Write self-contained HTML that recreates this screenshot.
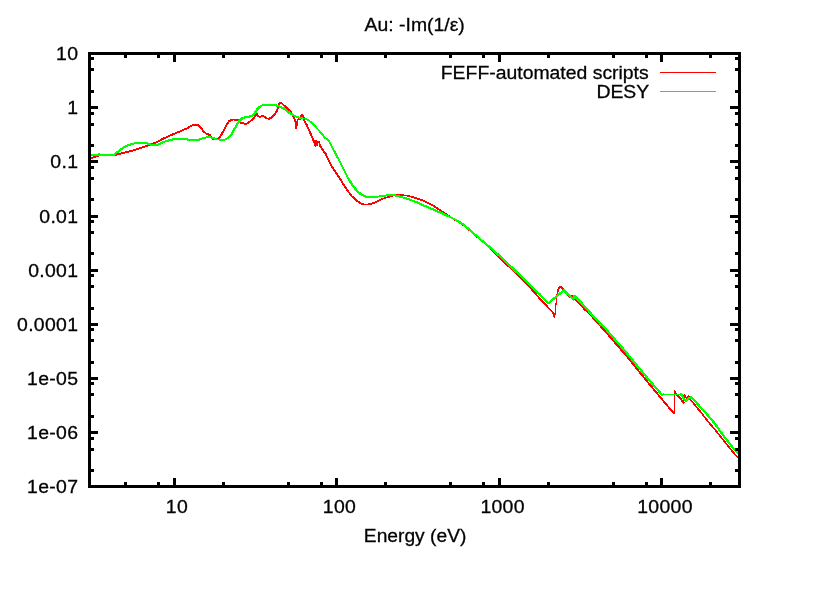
<!DOCTYPE html>
<html><head><meta charset="utf-8"><title>Au: -Im(1/ε)</title>
<style>
html,body{margin:0;padding:0;background:#fff;}
body{width:820px;height:600px;overflow:hidden;}
svg{display:block;}
text{font-family:"Liberation Sans",sans-serif;font-size:18.5px;fill:#000;stroke:#000;stroke-width:0.3px;}
</style></head><body>
<svg width="820" height="600" viewBox="0 0 820 600">
<rect x="0" y="0" width="820" height="600" fill="#fff"/>
<g fill="none" stroke-linejoin="round" stroke-linecap="butt">
<g shape-rendering="crispEdges" stroke-linecap="round">
<polyline stroke="#ff0000" stroke-width="1.9" points="90.5,158.2 91.2,158.0 94.5,157.1 98.9,155.6"/>
<polyline stroke="#ff0000" stroke-width="1.7" points="98.9,155.6 106.0,155.4 114.3,155.2"/>
<polyline stroke="#ff0000" stroke-width="1.8" points="114.3,155.2 120.1,153.8"/>
<polyline stroke="#ff0000" stroke-width="1.9" points="120.1,153.8 126.0,152.3 131.8,150.8 137.7,149.0 143.5,147.2 150.9,144.3 155.2,142.9"/>
<polyline stroke="#ff0000" stroke-width="2.0" points="155.2,142.9 164.0,138.3"/>
<polyline stroke="#ff0000" stroke-width="1.9" points="164.0,138.3 172.8,134.4 181.6,130.7 187.4,128.2"/>
<polyline stroke="#ff0000" stroke-width="2.0" points="187.4,128.2 191.1,125.9"/>
<polyline stroke="#ff0000" stroke-width="1.9" points="191.1,125.9 194.0,125.0"/>
<polyline stroke="#ff0000" stroke-width="1.7" points="194.0,125.0 197.7,124.9"/>
<polyline stroke="#ff0000" stroke-width="2.0" points="197.7,124.9 200.4,127.2 203.2,131.0 206.1,133.5"/>
<polyline stroke="#ff0000" stroke-width="1.9" points="206.1,133.5 209.8,135.1"/>
<polyline stroke="#ff0000" stroke-width="2.0" points="209.8,135.1 212.0,137.8 213.5,139.2"/>
<polyline stroke="#ff0000" stroke-width="1.8" points="213.5,139.2 218.5,138.6"/>
<polyline stroke="#ff0000" stroke-width="2.0" points="218.5,138.6 219.8,137.5 222.0,133.5 224.5,129.0"/>
<polyline stroke="#ff0000" stroke-width="1.9" points="224.5,129.0 227.0,124.0"/>
<polyline stroke="#ff0000" stroke-width="2.0" points="227.0,124.0 229.0,121.2"/>
<polyline stroke="#ff0000" stroke-width="1.9" points="229.0,121.2 232.5,119.6"/>
<polyline stroke="#ff0000" stroke-width="1.7" points="232.5,119.6 238.5,119.8"/>
<polyline stroke="#ff0000" stroke-width="2.0" points="238.5,119.8 240.5,122.5"/>
<polyline stroke="#ff0000" stroke-width="1.9" points="240.5,122.5 243.4,123.4"/>
<polyline stroke="#ff0000" stroke-width="1.8" points="243.4,123.4 246.3,124.0"/>
<polyline stroke="#ff0000" stroke-width="2.0" points="246.3,124.0 250.0,121.5 253.7,118.1 255.9,114.9 257.3,114.1"/>
<polyline stroke="#ff0000" stroke-width="1.9" points="257.3,114.1 258.0,116.3"/>
<polyline stroke="#ff0000" stroke-width="1.8" points="258.0,116.3 260.2,116.8"/>
<polyline stroke="#ff0000" stroke-width="1.9" points="260.2,116.8 263.2,116.0"/>
<polyline stroke="#ff0000" stroke-width="2.0" points="263.2,116.0 266.1,118.1"/>
<polyline stroke="#ff0000" stroke-width="1.8" points="266.1,118.1 269.0,118.8"/>
<polyline stroke="#ff0000" stroke-width="2.0" points="269.0,118.8 272.0,117.1 274.9,114.1 277.1,110.5"/>
<polyline stroke="#ff0000" stroke-width="1.9" points="277.1,110.5 278.8,104.5"/>
<polyline stroke="#ff0000" stroke-width="2.0" points="278.8,104.5 279.9,102.5"/>
<polyline stroke="#ff0000" stroke-width="1.9" points="279.9,102.5 281.3,102.9"/>
<polyline stroke="#ff0000" stroke-width="2.0" points="281.3,102.9 284.0,105.5 287.0,108.0 290.0,111.0 292.5,114.5"/>
<polyline stroke="#ff0000" stroke-width="1.9" points="292.5,114.5 294.5,118.5 295.6,122.0"/>
<polyline stroke="#ff0000" stroke-width="1.2" points="295.6,122.0 296.3,128.6"/>
<polyline stroke="#ff0000" stroke-width="1.8" points="296.3,128.6 296.9,123.0 297.6,119.8"/>
<polyline stroke="#ff0000" stroke-width="1.9" points="297.6,119.8 300.0,119.0 301.0,115.5"/>
<polyline stroke="#ff0000" stroke-width="2.0" points="301.0,115.5 302.2,114.5 303.5,116.5"/>
<polyline stroke="#ff0000" stroke-width="1.8" points="303.5,116.5 304.5,121.0"/>
<polyline stroke="#ff0000" stroke-width="2.0" points="304.5,121.0 306.5,124.5"/>
<polyline stroke="#ff0000" stroke-width="1.9" points="306.5,124.5 308.5,129.0 311.0,134.5 313.0,139.5 314.5,142.5 315.5,146.0"/>
<polyline stroke="#ff0000" stroke-width="1.8" points="315.5,146.0 316.2,141.0 317.0,145.0"/>
<polyline stroke="#ff0000" stroke-width="1.9" points="317.0,145.0 318.0,142.0 319.0,141.5"/>
<polyline stroke="#ff0000" stroke-width="1.8" points="319.0,141.5 320.0,146.0"/>
<polyline stroke="#ff0000" stroke-width="2.0" points="320.0,146.0 322.5,149.5 325.5,153.6"/>
<polyline stroke="#ff0000" stroke-width="1.9" points="325.5,153.6 328.0,159.0"/>
<polyline stroke="#ff0000" stroke-width="1.8" points="328.0,159.0 332.0,167.0"/>
<polyline stroke="#ff0000" stroke-width="1.9" points="332.0,167.0 337.0,174.0 342.0,182.0 347.0,190.0 352.0,196.4 357.0,201.0 362.0,204.0"/>
<polyline stroke="#ff0000" stroke-width="1.7" points="362.0,204.0 366.0,204.6 371.0,204.0"/>
<polyline stroke="#ff0000" stroke-width="1.8" points="371.0,204.0 376.0,202.0 382.0,199.0 388.0,197.0 394.0,195.4"/>
<polyline stroke="#ff0000" stroke-width="1.7" points="394.0,195.4 400.0,194.8 408.0,195.8"/>
<polyline stroke="#ff0000" stroke-width="1.8" points="408.0,195.8 416.0,198.0 424.0,201.0 432.0,205.0"/>
<polyline stroke="#ff0000" stroke-width="1.9" points="432.0,205.0 440.0,210.0 448.0,215.6 456.0,220.3 464.0,225.4 472.0,232.3 480.0,239.3 488.0,246.0 492.0,250.2 496.0,254.3 500.0,258.1 510.0,267.6 520.0,277.1 530.0,287.4 540.0,298.8 548.3,307.7 553.3,313.0"/>
<polyline stroke="#ff0000" stroke-width="1.8" points="553.3,313.0 554.6,317.5"/>
<polyline stroke="#ff0000" stroke-width="1.2" points="554.6,317.5 555.4,310.0 556.2,302.5 557.1,295.0"/>
<polyline stroke="#ff0000" stroke-width="1.7" points="557.1,295.0 558.3,289.2"/>
<polyline stroke="#ff0000" stroke-width="1.9" points="558.3,289.2 559.6,286.7"/>
<polyline stroke="#ff0000" stroke-width="1.6" points="559.6,286.7 561.2,286.7"/>
<polyline stroke="#ff0000" stroke-width="1.9" points="561.2,286.7 563.3,289.2 566.7,293.8 569.2,296.7"/>
<polyline stroke="#ff0000" stroke-width="1.8" points="569.2,296.7 571.2,295.7"/>
<polyline stroke="#ff0000" stroke-width="1.6" points="571.2,295.7 572.9,295.8"/>
<polyline stroke="#ff0000" stroke-width="1.9" points="572.9,295.8 575.0,299.6 579.2,303.7 585.0,309.7 590.0,314.4 597.5,322.5 602.0,327.8 610.0,336.9 618.0,346.2 626.0,355.4 630.4,360.7 640.8,373.7 651.2,386.3 660.0,397.0 665.0,402.8 670.0,408.8 674.2,413.3"/>
<polyline stroke="#ff0000" stroke-width="1.2" points="674.2,413.3 674.6,390.6"/>
<polyline stroke="#ff0000" stroke-width="1.7" points="674.6,390.6 674.9,392.6"/>
<polyline stroke="#ff0000" stroke-width="1.9" points="674.9,392.6 676.7,394.3 680.0,398.1 683.8,402.9"/>
<polyline stroke="#ff0000" stroke-width="1.2" points="683.8,402.9 684.3,395.4"/>
<polyline stroke="#ff0000" stroke-width="1.9" points="684.3,395.4 686.0,397.5"/>
<polyline stroke="#ff0000" stroke-width="1.8" points="686.0,397.5 687.1,397.9"/>
<polyline stroke="#ff0000" stroke-width="1.9" points="687.1,397.9 688.3,396.2 690.0,399.2"/>
<polyline stroke="#ff0000" stroke-width="1.7" points="690.0,399.2 694.2,404.2 700.0,411.2 705.0,417.5 710.0,423.8 714.6,429.2 724.2,441.0 732.5,451.5 739.0,458.8"/>
<polyline stroke="#00ff00" stroke-width="1.9" points="90.5,155.0 97.5,155.0"/>
<polyline stroke="#00ff00" stroke-width="2.3" points="97.5,155.0 98.9,153.9 100.4,155.0"/>
<polyline stroke="#00ff00" stroke-width="1.9" points="100.4,155.0 113.5,155.0"/>
<polyline stroke="#00ff00" stroke-width="2.3" points="113.5,155.0 116.5,152.7 120.1,150.1 124.5,146.8"/>
<polyline stroke="#00ff00" stroke-width="2.2" points="124.5,146.8 128.9,145.0"/>
<polyline stroke="#00ff00" stroke-width="2.1" points="128.9,145.0 132.6,143.9 135.5,143.0"/>
<polyline stroke="#00ff00" stroke-width="1.9" points="135.5,143.0 146.5,143.0"/>
<polyline stroke="#00ff00" stroke-width="2.2" points="146.5,143.0 150.9,144.6"/>
<polyline stroke="#00ff00" stroke-width="1.9" points="150.9,144.6 157.5,144.8"/>
<polyline stroke="#00ff00" stroke-width="2.2" points="157.5,144.8 162.6,142.6 165.0,141.5"/>
<polyline stroke="#00ff00" stroke-width="2.1" points="165.0,141.5 170.0,140.0"/>
<polyline stroke="#00ff00" stroke-width="2.0" points="170.0,140.0 175.0,139.0"/>
<polyline stroke="#00ff00" stroke-width="1.9" points="175.0,139.0 186.5,139.0"/>
<polyline stroke="#00ff00" stroke-width="2.3" points="186.5,139.0 188.0,140.0"/>
<polyline stroke="#00ff00" stroke-width="1.9" points="188.0,140.0 198.0,140.0"/>
<polyline stroke="#00ff00" stroke-width="2.2" points="198.0,140.0 202.0,138.5"/>
<polyline stroke="#00ff00" stroke-width="2.1" points="202.0,138.5 208.0,137.0"/>
<polyline stroke="#00ff00" stroke-width="2.0" points="208.0,137.0 212.0,137.6"/>
<polyline stroke="#00ff00" stroke-width="2.2" points="212.0,137.6 217.0,139.5"/>
<polyline stroke="#00ff00" stroke-width="1.9" points="217.0,139.5 224.4,139.8"/>
<polyline stroke="#00ff00" stroke-width="2.2" points="224.4,139.8 228.0,138.0"/>
<polyline stroke="#00ff00" stroke-width="2.3" points="228.0,138.0 231.7,133.9"/>
<polyline stroke="#00ff00" stroke-width="2.2" points="231.7,133.9 235.4,127.3"/>
<polyline stroke="#00ff00" stroke-width="2.3" points="235.4,127.3 239.0,121.5 242.0,118.5"/>
<polyline stroke="#00ff00" stroke-width="2.2" points="242.0,118.5 244.9,117.1"/>
<polyline stroke="#00ff00" stroke-width="1.9" points="244.9,117.1 248.5,116.8"/>
<polyline stroke="#00ff00" stroke-width="2.1" points="248.5,116.8 252.2,115.6"/>
<polyline stroke="#00ff00" stroke-width="2.3" points="252.2,115.6 255.1,112.7 258.0,108.3 261.0,105.8"/>
<polyline stroke="#00ff00" stroke-width="2.1" points="261.0,105.8 263.9,104.9"/>
<polyline stroke="#00ff00" stroke-width="1.9" points="263.9,104.9 274.1,104.9"/>
<polyline stroke="#00ff00" stroke-width="2.1" points="274.1,104.9 279.0,106.2"/>
<polyline stroke="#00ff00" stroke-width="2.2" points="279.0,106.2 284.0,108.5"/>
<polyline stroke="#00ff00" stroke-width="2.3" points="284.0,108.5 289.0,112.5 293.0,115.0"/>
<polyline stroke="#00ff00" stroke-width="2.2" points="293.0,115.0 297.0,117.0"/>
<polyline stroke="#00ff00" stroke-width="2.1" points="297.0,117.0 301.0,118.0"/>
<polyline stroke="#00ff00" stroke-width="1.6" points="301.0,118.0 305.0,118.5"/>
<polyline stroke="#00ff00" stroke-width="1.8" points="305.0,118.5 308.5,120.0"/>
<polyline stroke="#00ff00" stroke-width="1.9" points="308.5,120.0 313.0,124.0 318.0,129.5 323.0,135.0 324.5,137.5 328.5,140.2 331.0,145.0"/>
<polyline stroke="#00ff00" stroke-width="2.2" points="331.0,145.0 334.0,151.0 338.0,158.0 343.0,168.0 348.0,178.0"/>
<polyline stroke="#00ff00" stroke-width="2.3" points="348.0,178.0 353.0,186.0 358.0,192.0 362.0,195.0"/>
<polyline stroke="#00ff00" stroke-width="2.2" points="362.0,195.0 366.0,196.6"/>
<polyline stroke="#00ff00" stroke-width="1.9" points="366.0,196.6 372.0,197.0 380.0,196.4"/>
<polyline stroke="#00ff00" stroke-width="2.0" points="380.0,196.4 388.0,195.2"/>
<polyline stroke="#00ff00" stroke-width="1.9" points="388.0,195.2 394.0,195.2"/>
<polyline stroke="#00ff00" stroke-width="2.1" points="394.0,195.2 400.0,196.6 408.0,199.0"/>
<polyline stroke="#00ff00" stroke-width="2.2" points="408.0,199.0 416.0,202.0 424.0,205.6 432.0,209.0 440.0,212.4 448.0,216.0 456.0,220.0"/>
<polyline stroke="#00ff00" stroke-width="2.3" points="456.0,220.0 464.0,225.0 472.0,232.0 480.0,239.0 488.0,245.6 490.0,247.5 500.0,256.2 510.0,265.7 520.0,275.2 530.0,284.7 540.0,294.6 548.3,303.3 556.7,296.2 563.8,290.4 568.3,294.6 573.3,299.6"/>
<polyline stroke="#00ff00" stroke-width="2.1" points="573.3,299.6 574.3,295.8"/>
<polyline stroke="#00ff00" stroke-width="2.3" points="574.3,295.8 576.7,298.3 581.7,303.3 590.0,312.5 600.0,323.4 606.0,329.3 614.0,338.4 622.0,347.5 630.0,357.0 640.8,370.2 651.2,382.7 655.0,386.7 662.1,395.0"/>
<polyline stroke="#00ff00" stroke-width="2.2" points="662.1,395.0 663.0,394.5"/>
<polyline stroke="#00ff00" stroke-width="1.0" points="663.0,394.5 680.2,394.5"/>
<polyline stroke="#00ff00" stroke-width="2.3" points="680.2,394.5 681.0,393.9"/>
<polyline stroke="#00ff00" stroke-width="2.2" points="681.0,393.9 683.8,398.8"/>
<polyline stroke="#00ff00" stroke-width="2.3" points="683.8,398.8 685.8,400.8 690.8,397.1 695.0,401.2 700.0,406.7 705.0,412.1 710.0,417.9 715.0,423.8 724.2,436.9 732.5,447.3 739.0,454.2"/>
</g>
<line x1="660" y1="72.5" x2="716" y2="72.5" stroke="#ff0000" stroke-width="1"/>
<line x1="660" y1="91.5" x2="716" y2="91.5" stroke="#00ff00" stroke-width="1"/>
</g>
<g fill="#000" shape-rendering="crispEdges">
<rect x="88" y="52" width="653" height="3"/>
<rect x="88" y="485" width="653" height="3"/>
<rect x="88" y="52" width="3" height="436"/>
<rect x="738" y="52" width="3" height="436"/>
<rect x="124" y="482" width="3" height="3"/>
<rect x="124" y="55" width="3" height="3"/>
<rect x="157" y="482" width="3" height="3"/>
<rect x="157" y="55" width="3" height="3"/>
<rect x="173" y="478" width="3" height="7"/>
<rect x="173" y="55" width="3" height="7"/>
<rect x="222" y="482" width="3" height="3"/>
<rect x="222" y="55" width="3" height="3"/>
<rect x="287" y="482" width="3" height="3"/>
<rect x="287" y="55" width="3" height="3"/>
<rect x="320" y="482" width="3" height="3"/>
<rect x="320" y="55" width="3" height="3"/>
<rect x="335" y="478" width="3" height="7"/>
<rect x="335" y="55" width="3" height="7"/>
<rect x="384" y="482" width="3" height="3"/>
<rect x="384" y="55" width="3" height="3"/>
<rect x="449" y="482" width="3" height="3"/>
<rect x="449" y="55" width="3" height="3"/>
<rect x="482" y="482" width="3" height="3"/>
<rect x="482" y="55" width="3" height="3"/>
<rect x="498" y="478" width="3" height="7"/>
<rect x="498" y="55" width="3" height="7"/>
<rect x="547" y="482" width="3" height="3"/>
<rect x="547" y="55" width="3" height="3"/>
<rect x="612" y="482" width="3" height="3"/>
<rect x="612" y="55" width="3" height="3"/>
<rect x="645" y="482" width="3" height="3"/>
<rect x="645" y="55" width="3" height="3"/>
<rect x="660" y="478" width="3" height="7"/>
<rect x="660" y="55" width="3" height="7"/>
<rect x="709" y="482" width="3" height="3"/>
<rect x="709" y="55" width="3" height="3"/>
<rect x="91" y="469" width="3" height="3"/>
<rect x="735" y="469" width="3" height="3"/>
<rect x="91" y="448" width="3" height="3"/>
<rect x="735" y="448" width="3" height="3"/>
<rect x="91" y="437" width="3" height="3"/>
<rect x="735" y="437" width="3" height="3"/>
<rect x="91" y="431" width="7" height="3"/>
<rect x="730" y="431" width="8" height="3"/>
<rect x="91" y="415" width="3" height="3"/>
<rect x="735" y="415" width="3" height="3"/>
<rect x="91" y="393" width="3" height="3"/>
<rect x="735" y="393" width="3" height="3"/>
<rect x="91" y="382" width="3" height="3"/>
<rect x="735" y="382" width="3" height="3"/>
<rect x="91" y="377" width="7" height="3"/>
<rect x="730" y="377" width="8" height="3"/>
<rect x="91" y="361" width="3" height="3"/>
<rect x="735" y="361" width="3" height="3"/>
<rect x="91" y="339" width="3" height="3"/>
<rect x="735" y="339" width="3" height="3"/>
<rect x="91" y="328" width="3" height="3"/>
<rect x="735" y="328" width="3" height="3"/>
<rect x="91" y="323" width="7" height="3"/>
<rect x="730" y="323" width="8" height="3"/>
<rect x="91" y="307" width="3" height="3"/>
<rect x="735" y="307" width="3" height="3"/>
<rect x="91" y="285" width="3" height="3"/>
<rect x="735" y="285" width="3" height="3"/>
<rect x="91" y="274" width="3" height="3"/>
<rect x="735" y="274" width="3" height="3"/>
<rect x="91" y="269" width="7" height="3"/>
<rect x="730" y="269" width="8" height="3"/>
<rect x="91" y="252" width="3" height="3"/>
<rect x="735" y="252" width="3" height="3"/>
<rect x="91" y="231" width="3" height="3"/>
<rect x="735" y="231" width="3" height="3"/>
<rect x="91" y="220" width="3" height="3"/>
<rect x="735" y="220" width="3" height="3"/>
<rect x="91" y="215" width="7" height="3"/>
<rect x="730" y="215" width="8" height="3"/>
<rect x="91" y="198" width="3" height="3"/>
<rect x="735" y="198" width="3" height="3"/>
<rect x="91" y="177" width="3" height="3"/>
<rect x="735" y="177" width="3" height="3"/>
<rect x="91" y="166" width="3" height="3"/>
<rect x="735" y="166" width="3" height="3"/>
<rect x="91" y="160" width="7" height="3"/>
<rect x="730" y="160" width="8" height="3"/>
<rect x="91" y="144" width="3" height="3"/>
<rect x="735" y="144" width="3" height="3"/>
<rect x="91" y="123" width="3" height="3"/>
<rect x="735" y="123" width="3" height="3"/>
<rect x="91" y="112" width="3" height="3"/>
<rect x="735" y="112" width="3" height="3"/>
<rect x="91" y="106" width="7" height="3"/>
<rect x="730" y="106" width="8" height="3"/>
<rect x="91" y="90" width="3" height="3"/>
<rect x="735" y="90" width="3" height="3"/>
<rect x="91" y="68" width="3" height="3"/>
<rect x="735" y="68" width="3" height="3"/>
<rect x="91" y="57" width="3" height="3"/>
<rect x="735" y="57" width="3" height="3"/>
</g>
<g opacity="0.999">
<text transform="translate(414.70 30.80) scale(1.0210 1)" text-anchor="middle" style="font-size:19.00px">Au: -Im(1/ε)</text>
<text transform="translate(78.31 60.00) scale(1.0500 1)" text-anchor="end" letter-spacing="0.30">10</text>
<text transform="translate(78.31 114.00) scale(1.0500 1)" text-anchor="end" letter-spacing="0.30">1</text>
<text transform="translate(78.31 168.00) scale(1.0500 1)" text-anchor="end" letter-spacing="0.30">0.1</text>
<text transform="translate(78.31 223.00) scale(1.0500 1)" text-anchor="end" letter-spacing="0.30">0.01</text>
<text transform="translate(78.31 277.00) scale(1.0500 1)" text-anchor="end" letter-spacing="0.30">0.001</text>
<text transform="translate(78.31 331.00) scale(1.0500 1)" text-anchor="end" letter-spacing="0.30">0.0001</text>
<text transform="translate(78.31 385.00) scale(1.0500 1)" text-anchor="end" letter-spacing="0.30">1e-05</text>
<text transform="translate(78.31 439.00) scale(1.0500 1)" text-anchor="end" letter-spacing="0.30">1e-06</text>
<text transform="translate(78.31 493.00) scale(1.0500 1)" text-anchor="end" letter-spacing="0.30">1e-07</text>
<text transform="translate(176.96 513.00) scale(1.0500 1)" text-anchor="middle" letter-spacing="0.30">10</text>
<text transform="translate(339.51 513.00) scale(1.0500 1)" text-anchor="middle" letter-spacing="0.30">100</text>
<text transform="translate(502.61 513.00) scale(1.0500 1)" text-anchor="middle" letter-spacing="0.30">1000</text>
<text transform="translate(665.01 513.00) scale(1.0500 1)" text-anchor="middle" letter-spacing="0.30">10000</text>
<text transform="translate(415.10 542.00) scale(1.0120 1)" text-anchor="middle" style="font-size:19.00px">Energy (eV)</text>
<text transform="translate(648.70 79.00) scale(1.0210 1)" text-anchor="end" style="font-size:19.00px">FEFF-automated scripts</text>
<text transform="translate(649.20 98.00) scale(1.0210 1)" text-anchor="end" style="font-size:19.00px">DESY</text>
</g>
</svg>
</body></html>
